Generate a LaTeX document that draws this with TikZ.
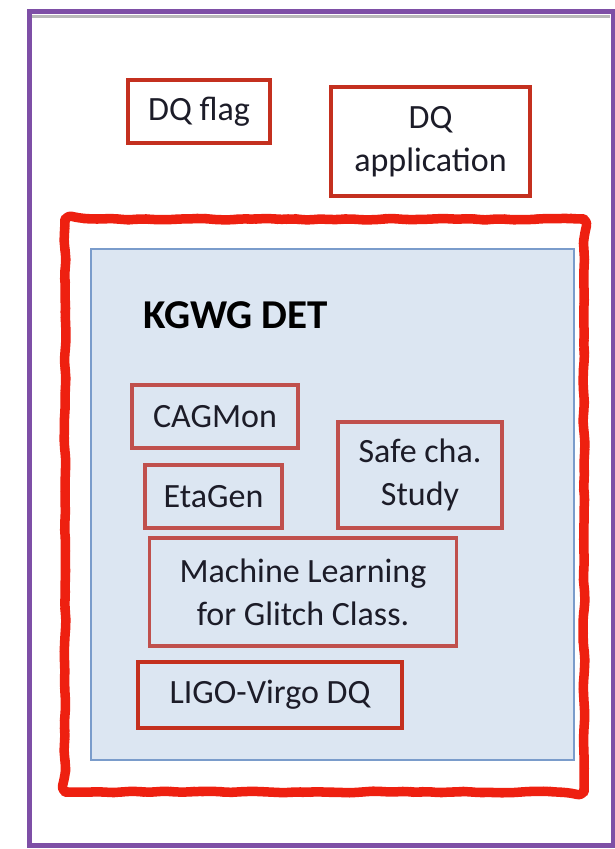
\documentclass[tikz,border=0pt]{standalone}
\usepackage{fontspec}
\setmainfont{Carlito}
\usetikzlibrary{decorations.pathmorphing}
\definecolor{frameP}{HTML}{7E4FA6}
\definecolor{boxR}{HTML}{C4301F}
\definecolor{innerR}{HTML}{C0504D}
\definecolor{hotR}{HTML}{EE2010}
\definecolor{blueF}{HTML}{DCE6F2}
\definecolor{blueD}{HTML}{7A9CCB}
\definecolor{txt}{HTML}{1C1C28}
\begin{document}
\begin{tikzpicture}[x=1pt,y=-1pt,
  topbox/.style={draw=boxR,line width=4pt,fill=white,inner sep=0pt,align=center,
    text=txt,font=\fontsize{34}{43}\selectfont},
  inbox/.style={draw=innerR,line width=3.8pt,inner sep=0pt,align=center,
    text=txt,font=\fontsize{34}{43}\selectfont}]
\useasboundingbox (0,0) rectangle (615,849);
\fill[white] (0,0) rectangle (615,849);
% outer purple frame
\draw[gray!55,line width=3.5pt] (32,16.5) -- (610,16.5);
\draw[frameP,line width=5pt] (29,11) rectangle (613,845);
% top boxes
\node[topbox,minimum width=142pt,minimum height=63pt] (flag) at (199,111.5) {DQ flag};
\node[topbox,minimum width=199pt,minimum height=109pt] (app) at (430.5,141.5) {DQ\\application};
% red hand-drawn frame
\draw[hotR,line width=9.5pt,line join=round,line cap=round,rounded corners=7pt,
  decorate,decoration={random steps,segment length=10pt,amplitude=1pt}]
  (320,219) -- (584,219) -- (584,792) -- (65,792) -- (65,219) -- (320,219);
% blue box
\node[draw=blueD,fill=blueF,line width=1.8pt,minimum width=483pt,minimum height=511pt,inner sep=0pt]
  (det) at (332.5,504.5) {};
\node[anchor=base west,inner sep=0pt,text=black,font=\fontsize{41}{48}\selectfont\bfseries]
  (title) at (143,328) {KGWG DET};
% inner boxes
\node[inbox,minimum width=166pt,minimum height=63pt] (cag) at (215,416.5) {CAGMon};
\node[inbox,minimum width=137pt,minimum height=63pt] (eta) at (213.5,496.5) {EtaGen};
\node[inbox,minimum width=164pt,minimum height=106pt] (safe) at (420,475) {Safe cha.\\Study};
\node[inbox,minimum width=307pt,minimum height=108pt] (ml) at (303,592) {Machine Learning\\for Glitch Class.};
\node[inbox,draw=boxR,line width=4.2pt,minimum width=264pt,minimum height=66pt] (ligo) at (270,695) {LIGO-Virgo DQ};
\end{tikzpicture}
\end{document}
